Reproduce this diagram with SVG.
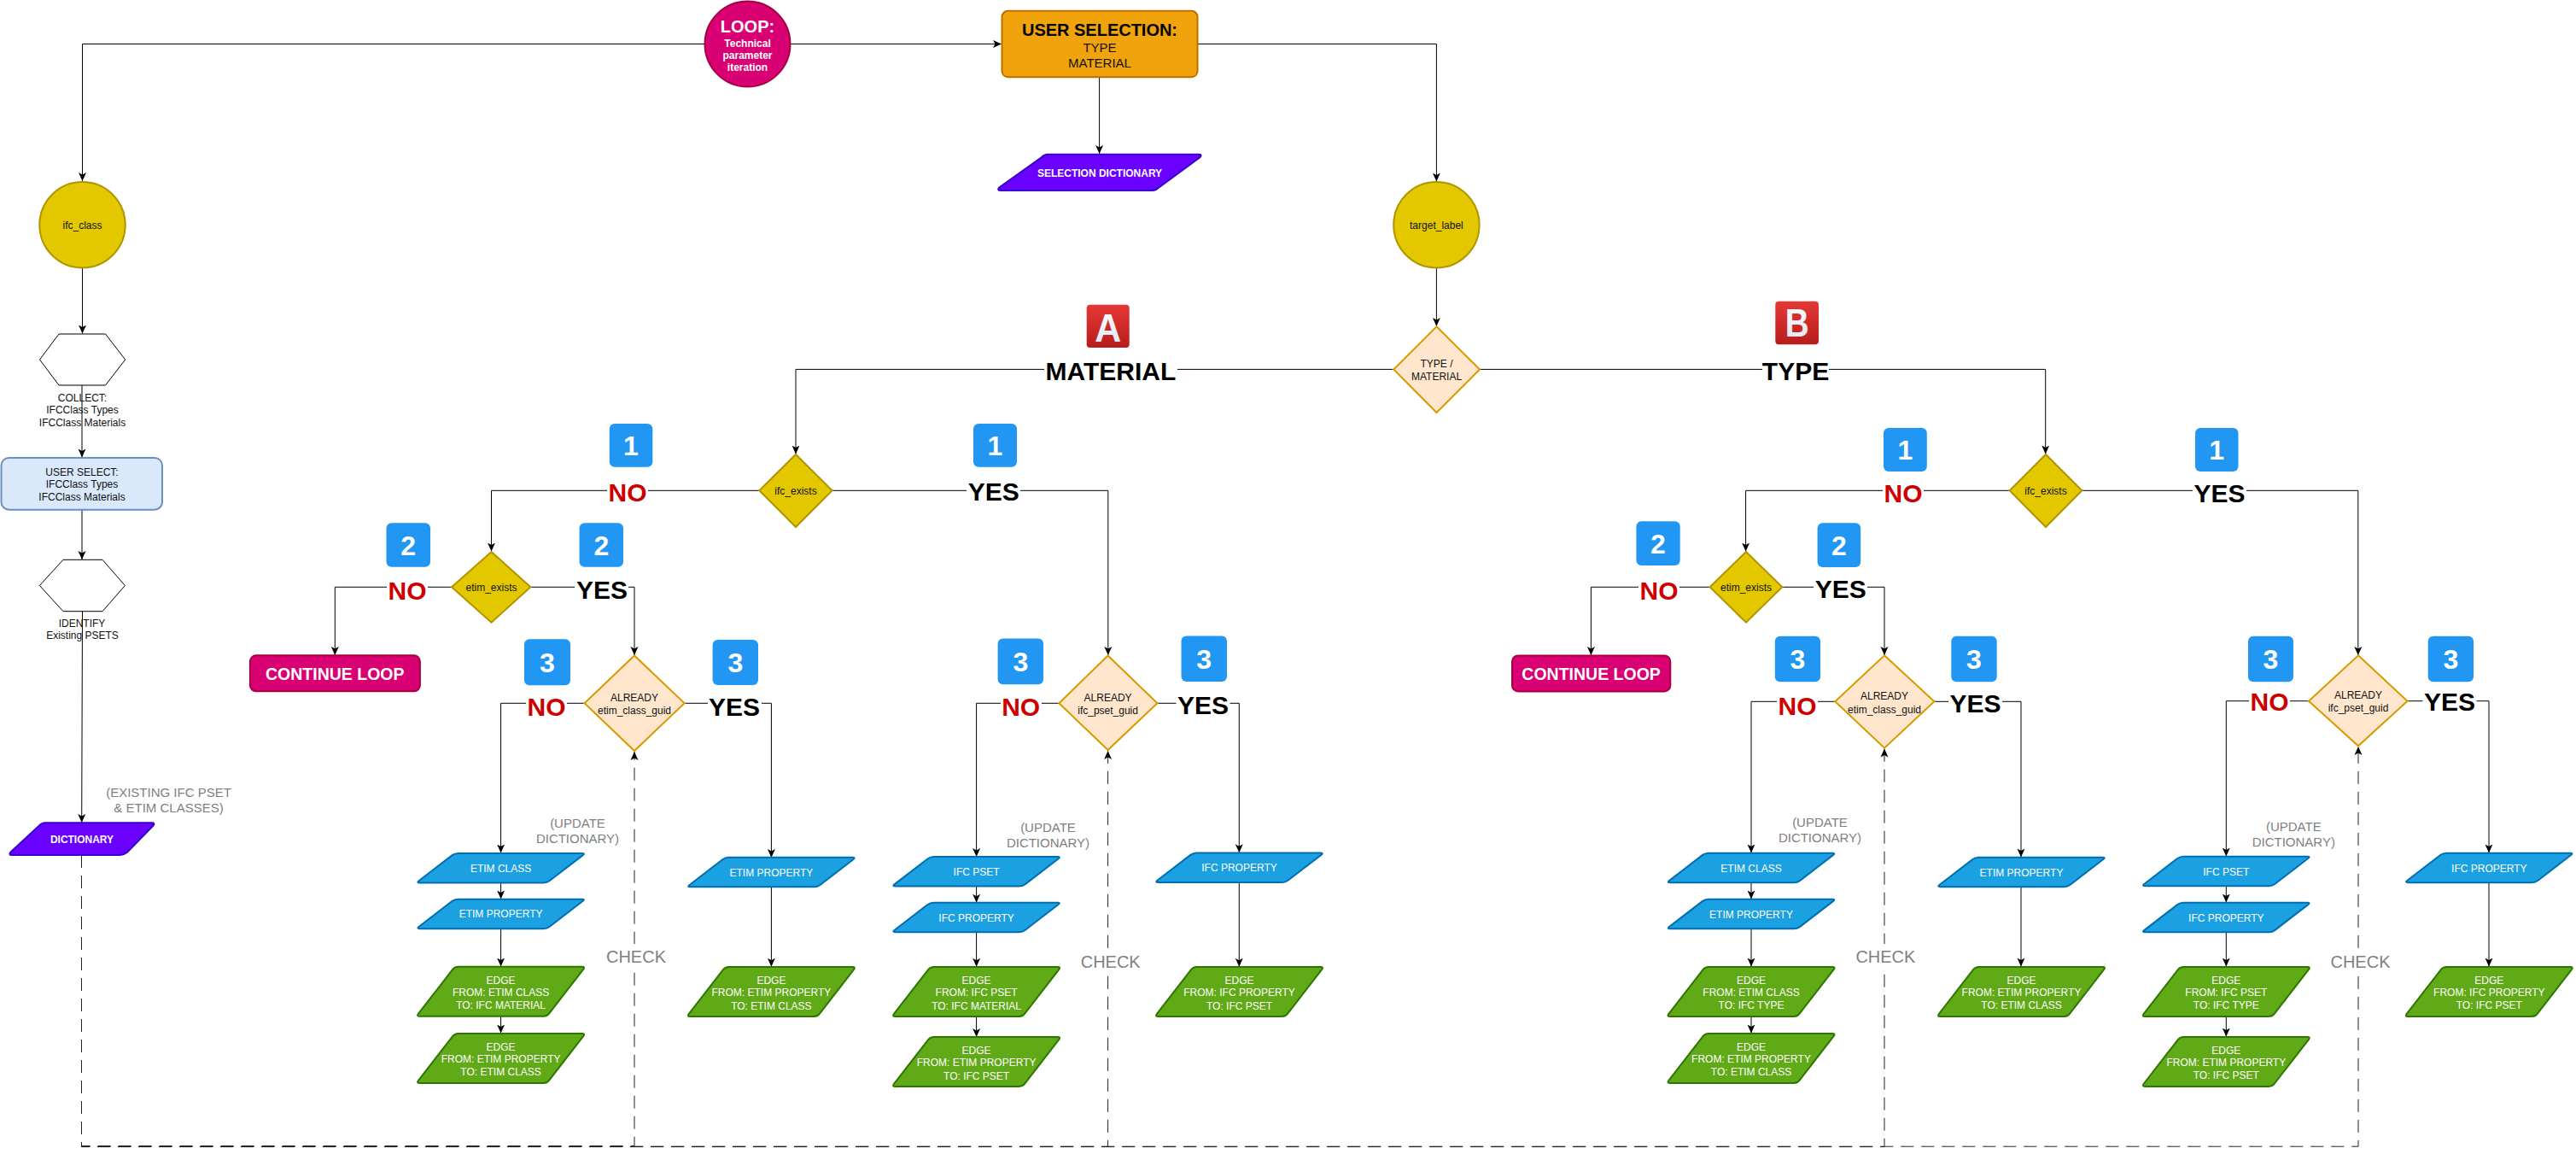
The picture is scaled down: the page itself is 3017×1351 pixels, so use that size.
<svg xmlns="http://www.w3.org/2000/svg" width="3017" height="1351" viewBox="0 0 3017 1351">
<style>
text{font-family:"Liberation Sans",Arial,sans-serif;text-anchor:middle}
.c{fill:none;stroke:#000;stroke-width:1}
.a{marker-end:url(#arr)}
.d{stroke-dasharray:15 9;stroke-width:1;fill:none;stroke:#222;marker-end:url(#arr)}
.s12{font-size:12px;fill:#111}
.w12{font-size:12px;fill:#fff}
.wb12{font-size:12px;fill:#fff;font-weight:700}
.gray{font-size:15px;fill:#808080}
.check{font-size:20px;fill:#808080}
.no{font-size:30px;font-weight:700;fill:#c00}
.yes{font-size:30px;font-weight:700;fill:#000}
.bg{fill:#fff}
.badge{fill:#2196f3}
.num{font-size:32px;font-weight:700;fill:#fff}
.yel{fill:#e3c800;stroke:#b09500;stroke-width:2}
.pea{fill:#ffe6cc;stroke:#d79b00;stroke-width:2}
.hex{fill:#fff;stroke:#000;stroke-width:1}
.pnk{fill:#d80073;stroke:#a50040;stroke-width:2}
.pur{fill:#6a00ff;stroke:#3700cc;stroke-width:2}
.blu{fill:#1ba1e2;stroke:#006eaf;stroke-width:2}
.grn{fill:#60a917;stroke:#2d7600;stroke-width:2}
.cl{font-size:19.5px;font-weight:700;fill:#fff}
</style>
<defs>
<marker id="arr" markerUnits="userSpaceOnUse" markerWidth="12" markerHeight="12" refX="10" refY="6" orient="auto"><path d="M10,6 L0,1.5 L2.5,6 L0,10.5Z" fill="#000"/></marker>
<path id="pb" d="M-50,-17.25H95Q99,-17.25 95.8,-14.85L57.2,14.85Q54,17.25 50,17.25H-95Q-99,17.25 -95.8,14.85L-57.2,-14.85Q-54,-17.25 -50,-17.25Z"/>
<path id="pg" d="M-50,-29H95Q99,-29 96.55,-25.84L56.45,25.84Q54,29 50,29H-95Q-99,29 -96.55,25.84L-56.45,-25.84Q-54,-29 -50,-29Z"/>
<linearGradient id="rd" x1="0" y1="0" x2="0" y2="1"><stop offset="0" stop-color="#e53935"/><stop offset="1" stop-color="#b71c1c"/></linearGradient>
<linearGradient id="lt" x1="0" y1="0" x2="0" y2="1"><stop offset="0" stop-color="#ffffff"/><stop offset="1" stop-color="#dfe3ee"/></linearGradient>
</defs>
<rect width="3017" height="1351" fill="#fff"/>

<g id="connectors">
<path class="c a" d="M825,51.5H96.5V212"/>
<path class="c a" d="M926,51.5H1173"/>
<path class="c a" d="M1402.4,51.5H1682.4V212.5"/>
<path class="c a" d="M1287.6,90V180"/>
<path class="c a" d="M1682.4,314V382"/>
<path class="c a" d="M96.5,314V390.5"/>
<path class="c a" d="M96,451V535.5"/>
<path class="c a" d="M96,596.7V655"/>
<path class="c a" d="M96.5,715.7L95.7,963"/>
<path class="c a" d="M1632.3,432.4H932V531.5"/>
<path class="c a" d="M1733,432.4H2395.7V531.5"/>
<path class="c a" d="M889.3,574.3H575.5V645.5"/>
<path class="c a" d="M974.6,574.3H1297.8V767"/>
<path class="c a" d="M529,687.3H392.3V767"/>
<path class="c a" d="M621.4,687.3H743V767"/>
<path class="c a" d="M684.6,823.3H586.6V998.5"/>
<path class="c a" d="M801.6,823.3H903.4V1004"/>
<path class="c a" d="M586.6,1033.3V1052.5"/>
<path class="c a" d="M586.6,1087V1131.5"/>
<path class="c a" d="M586.6,1189.7V1209.5"/>
<path class="c a" d="M903.4,1038V1131.7"/>
<path class="c a" d="M1240.4,823.3H1143.6V1003"/>
<path class="c a" d="M1355.4,823.3H1451.3V998.3"/>
<path class="c a" d="M1143.6,1037.2V1056.7"/>
<path class="c a" d="M1143.6,1090.8V1131.7"/>
<path class="c a" d="M1143.6,1189.8V1214"/>
<path class="c a" d="M1451.3,1032.8V1131.7"/>
<path class="c a" d="M2353.7,574.3H2044.6V645.5"/>
<path class="c a" d="M2438.4,574.3H2761.8V767"/>
<path class="c a" d="M2002.6,687.3H1863.4V767"/>
<path class="c a" d="M2087.3,687.3H2207V767"/>
<path class="c a" d="M2149.3,821.3H2051V998.5"/>
<path class="c a" d="M2265.4,821.3H2367V1003.5"/>
<path class="c a" d="M2051,1033.3V1052.5"/>
<path class="c a" d="M2051,1087.3V1131.5"/>
<path class="c a" d="M2051,1190V1209.5"/>
<path class="c a" d="M2367,1038V1131.5"/>
<path class="c a" d="M2704,820.7H2607.3V1002.5"/>
<path class="c a" d="M2819.5,820.7H2915V998.5"/>
<path class="c a" d="M2607.3,1037V1056.5"/>
<path class="c a" d="M2607.3,1091.3V1131.5"/>
<path class="c a" d="M2607.3,1190V1213.5"/>
<path class="c a" d="M2915,1033V1131.5"/>
<path class="d" d="M95.5,1001V1341.6H743V880"/>
<path class="d" d="M95.5,1001V1342.4H1297.6V879"/>
<path class="d" d="M95.5,1001V1342.6H2207V876.5"/>
<path class="d" d="M95.5,1001V1342.2H2762V874"/>
</g>

<g id="node-loop"><circle cx="875.5" cy="51.5" r="50" class="pnk"/><text x="875.5" y="37.5" font-size="20" font-weight="700" fill="#fff">LOOP:</text><text x="875.5" y="54.5" class="wb12">Technical</text><text x="875.5" y="68.5" class="wb12">parameter</text><text x="875.5" y="83" class="wb12">iteration</text></g>
<g id="node-user-selection"><rect x="1173.5" y="12.7" width="229" height="77.5" rx="7" fill="#f0a30a" stroke="#bd7000" stroke-width="2"/><text x="1288" y="41.7" font-size="20" font-weight="700" fill="#000" textLength="182" lengthAdjust="spacingAndGlyphs">USER SELECTION:</text><text x="1288" y="61" font-size="15" fill="#111">TYPE</text><text x="1288" y="79" font-size="15" fill="#111">MATERIAL</text></g>
<g id="node-selection-dictionary"><path class="pur" d="M1227,180.7H1404Q1408,180.7 1405.6,184L1357,219.7Q1354,223 1350,223H1172Q1167.7,223 1170,219.7L1220,184Q1223,180.7 1227,180.7Z"/><text x="1288" y="207" class="wb12">SELECTION DICTIONARY</text></g>
<g id="node-ifc-class"><circle cx="96.5" cy="263.3" r="50.2" class="yel"/><text x="96.5" y="268" class="s12">ifc_class</text></g>
<g id="node-target-label"><circle cx="1682.4" cy="263.3" r="50.2" class="yel"/><text x="1682.4" y="268" class="s12">target_label</text></g>
<g id="node-collect"><polygon class="hex" points="69,391 123.5,391 146.7,421 123.5,451 69,451 46.5,421"/><text x="96.5" y="470" class="s12">COLLECT:</text><text x="96.5" y="484" class="s12">IFCClass Types</text><text x="96.5" y="499" class="s12">IFCClass Materials</text></g>
<g id="node-user-select"><rect x="1.5" y="536" width="188.5" height="60.7" rx="9" fill="#dae8fc" stroke="#6c8ebf" stroke-width="2"/><text x="96" y="556.5" class="s12">USER SELECT:</text><text x="96" y="571" class="s12">IFCClass Types</text><text x="96" y="586" class="s12">IFCClass Materials</text></g>
<g id="node-identify"><polygon class="hex" points="74,655.3 120,655.3 146.4,685.5 120,715.7 74,715.7 46.4,685.5"/><text x="96" y="733.5" class="s12">IDENTIFY</text><text x="96.5" y="748" class="s12">Existing PSETS</text></g>
<g id="node-dictionary"><path class="pur" d="M53,963.3H178Q182,963.3 179.5,966.5L149,997.8Q145,1001 141,1001H14Q9.8,1001 12.3,997.8L46,966.5Q49,963.3 53,963.3Z"/><text x="96" y="986.5" class="wb12">DICTIONARY</text></g>
<g id="note-existing"><text x="197.5" y="932.5" class="gray">(EXISTING IFC PSET</text><text x="197.5" y="951" class="gray">&amp; ETIM CLASSES)</text></g>
<g id="node-type-material"><polygon class="pea" points="1682.5,382.3 1733,432.5 1682.5,483 1632.3,432.5"/><text x="1682.5" y="430" class="s12">TYPE /</text><text x="1682.5" y="445" class="s12">MATERIAL</text></g>

<g id="badge-a"><rect x="1272.7" y="356.7" width="50" height="50.3" rx="4" fill="url(#rd)"/><text x="1297.7" y="400" font-size="46" font-weight="700" fill="url(#lt)" textLength="31" lengthAdjust="spacingAndGlyphs">A</text></g>
<g id="badge-b"><rect x="2079.3" y="352.7" width="50.7" height="50.6" rx="4" fill="url(#rd)"/><text x="2104.7" y="394.3" font-size="46" font-weight="700" fill="url(#lt)" textLength="28" lengthAdjust="spacingAndGlyphs">B</text></g>

<g id="label-material"><rect class="bg" x="1223" y="426" width="156" height="12"/><text x="1301" y="445" class="yes">MATERIAL</text></g>
<g id="label-type"><rect class="bg" x="2064" y="426" width="78" height="12"/><text x="2103" y="445" class="yes">TYPE</text></g>

<g id="node-ifc-exists-a"><polygon class="yel" points="932,532 974.6,574.3 932,617 889.3,574.3"/><text x="932" y="579" class="s12">ifc_exists</text></g>
<g id="node-etim-exists-a"><polygon class="yel" points="575.5,646 621.4,687.3 575.5,728.7 529,687.3"/><text x="575.5" y="692" class="s12">etim_exists</text></g>
<g id="node-continue-a"><rect x="292.9" y="767.3" width="199" height="42" rx="7" class="pnk"/><text x="392.3" y="795.5" class="cl">CONTINUE LOOP</text></g>
<g id="node-already-class-a"><polygon class="pea" points="743,767.5 801.6,823.3 743,879 684.6,823.3"/><text x="743" y="821" class="s12">ALREADY</text><text x="743" y="836" class="s12">etim_class_guid</text></g>
<g id="node-already-pset-a"><polygon class="pea" points="1297.6,767.5 1355.4,823.3 1297.6,878 1240.4,823.3"/><text x="1297.6" y="821" class="s12">ALREADY</text><text x="1297.6" y="836" class="s12">ifc_pset_guid</text></g>

<g id="labels-a">
<rect class="bg" x="711" y="568" width="48" height="12"/><text x="735" y="586.7" class="no">NO</text>
<rect class="bg" x="1132" y="568" width="63" height="12"/><text x="1163.7" y="585.7" class="yes">YES</text>
<rect class="bg" x="453" y="681" width="48" height="12"/><text x="477" y="701.7" class="no">NO</text>
<rect class="bg" x="673" y="681" width="63" height="12"/><text x="705" y="700.7" class="yes">YES</text>
<rect class="bg" x="616" y="817" width="48" height="12"/><text x="640" y="837.7" class="no">NO</text>
<rect class="bg" x="829" y="817" width="63" height="12"/><text x="860" y="838" class="yes">YES</text>
<rect class="bg" x="1172" y="817" width="48" height="12"/><text x="1195.7" y="837.6" class="no">NO</text>
<rect class="bg" x="1377.5" y="817" width="63" height="12"/><text x="1409" y="835.5" class="yes">YES</text>
</g>
<g id="badges-a">
<rect class="badge" x="713.8" y="496" width="50.5" height="50.7" rx="6"/><text x="739" y="533" class="num">1</text>
<rect class="badge" x="1140" y="496" width="51" height="50.7" rx="6"/><text x="1165.5" y="533" class="num">1</text>
<rect class="badge" x="452.5" y="612.3" width="51.5" height="51.4" rx="6"/><text x="478.2" y="649.5" class="num">2</text>
<rect class="badge" x="678.6" y="612.3" width="51.4" height="51.4" rx="6"/><text x="704.3" y="649.5" class="num">2</text>
<rect class="badge" x="614" y="748.3" width="54" height="54" rx="6"/><text x="641" y="786.7" class="num">3</text>
<rect class="badge" x="834.6" y="749" width="53.4" height="53" rx="6"/><text x="861.3" y="787" class="num">3</text>
<rect class="badge" x="1168.6" y="747.4" width="53.4" height="53.9" rx="6"/><text x="1195.3" y="786" class="num">3</text>
<rect class="badge" x="1383.5" y="744.6" width="53.5" height="53.4" rx="6"/><text x="1410.2" y="783" class="num">3</text>
</g>

<g id="node-etim-class-a"><use href="#pb" x="586.6" y="1016.2" class="blu"/><text x="586.6" y="1020.5" class="w12">ETIM CLASS</text></g>
<g id="node-etim-prop-a"><use href="#pb" x="586.6" y="1069.9" class="blu"/><text x="586.6" y="1074" class="w12">ETIM PROPERTY</text></g>
<g id="node-edge1-a"><use href="#pg" x="586.6" y="1160.8" class="grn"/><text x="586.6" y="1152" class="w12">EDGE</text><text x="586.6" y="1166" class="w12">FROM: ETIM CLASS</text><text x="586.6" y="1181" class="w12">TO: IFC MATERIAL</text></g>
<g id="node-edge2-a"><use href="#pg" x="586.6" y="1239" class="grn"/><text x="586.6" y="1230" class="w12">EDGE</text><text x="586.6" y="1244" class="w12">FROM: ETIM PROPERTY</text><text x="586.6" y="1259" class="w12">TO: ETIM CLASS</text></g>
<g id="node-etim-prop2-a"><use href="#pb" x="903.4" y="1021.1" class="blu"/><text x="903.4" y="1025.5" class="w12">ETIM PROPERTY</text></g>
<g id="node-edge3-a"><use href="#pg" x="903.4" y="1161" class="grn"/><text x="903.4" y="1152" class="w12">EDGE</text><text x="903.4" y="1166" class="w12">FROM: ETIM PROPERTY</text><text x="903.4" y="1181.5" class="w12">TO: ETIM CLASS</text></g>
<g id="node-ifc-pset-a"><use href="#pb" x="1143.6" y="1020.3" class="blu"/><text x="1143.6" y="1024.5" class="w12">IFC PSET</text></g>
<g id="node-ifc-prop-a"><use href="#pb" x="1143.6" y="1073.9" class="blu"/><text x="1143.6" y="1078.5" class="w12">IFC PROPERTY</text></g>
<g id="node-edge4-a"><use href="#pg" x="1143.6" y="1161" class="grn"/><text x="1143.6" y="1152" class="w12">EDGE</text><text x="1143.6" y="1166" class="w12">FROM: IFC PSET</text><text x="1143.6" y="1181.5" class="w12">TO: IFC MATERIAL</text></g>
<g id="node-edge5-a"><use href="#pg" x="1143.6" y="1243" class="grn"/><text x="1143.6" y="1234" class="w12">EDGE</text><text x="1143.6" y="1248" class="w12">FROM: ETIM PROPERTY</text><text x="1143.6" y="1263.5" class="w12">TO: IFC PSET</text></g>
<g id="node-ifc-prop2-a"><use href="#pb" x="1451.5" y="1015.7" class="blu"/><text x="1451.5" y="1020" class="w12">IFC PROPERTY</text></g>
<g id="node-edge6-a"><use href="#pg" x="1451.5" y="1161" class="grn"/><text x="1451.5" y="1152" class="w12">EDGE</text><text x="1451.5" y="1166" class="w12">FROM: IFC PROPERTY</text><text x="1451.5" y="1181.5" class="w12">TO: IFC PSET</text></g>

<g id="notes-a">
<text x="676.5" y="969" class="gray">(UPDATE</text><text x="676.5" y="987" class="gray">DICTIONARY)</text>
<text x="1227.5" y="974" class="gray">(UPDATE</text><text x="1227.5" y="992" class="gray">DICTIONARY)</text>
<rect class="bg" x="710" y="1105" width="70" height="31"/><text x="745" y="1127" class="check">CHECK</text>
<rect class="bg" x="1266" y="1111" width="70" height="31"/><text x="1300.7" y="1133" class="check">CHECK</text>
</g>

<g id="node-ifc-exists-b"><polygon class="yel" points="2396,532 2438.4,574.3 2396,617 2353.7,574.3"/><text x="2396" y="579" class="s12">ifc_exists</text></g>
<g id="node-etim-exists-b"><polygon class="yel" points="2045,646 2087.3,687.3 2045,728.7 2002.6,687.3"/><text x="2045" y="692" class="s12">etim_exists</text></g>
<g id="node-continue-b"><rect x="1771" y="767.5" width="185.3" height="41.9" rx="7" class="pnk"/><text x="1863.6" y="795.5" class="cl">CONTINUE LOOP</text></g>
<g id="node-already-class-b"><polygon class="pea" points="2207,767.3 2265.4,821.3 2207,875.7 2149.3,821.3"/><text x="2207" y="819" class="s12">ALREADY</text><text x="2207" y="834.5" class="s12">etim_class_guid</text></g>
<g id="node-already-pset-b"><polygon class="pea" points="2762,767.3 2819.5,820.7 2762,873.3 2704,820.7"/><text x="2762" y="818" class="s12">ALREADY</text><text x="2762" y="833" class="s12">ifc_pset_guid</text></g>

<g id="labels-b">
<rect class="bg" x="2205" y="568" width="48" height="12"/><text x="2229" y="587.7" class="no">NO</text>
<rect class="bg" x="2568" y="568" width="63" height="12"/><text x="2599.5" y="587.7" class="yes">YES</text>
<rect class="bg" x="1919" y="681" width="48" height="12"/><text x="1943" y="701.7" class="no">NO</text>
<rect class="bg" x="2124" y="681" width="63" height="12"/><text x="2155.7" y="700" class="yes">YES</text>
<rect class="bg" x="2081" y="815" width="48" height="12"/><text x="2105" y="836.7" class="no">NO</text>
<rect class="bg" x="2282" y="815" width="63" height="12"/><text x="2313.5" y="834" class="yes">YES</text>
<rect class="bg" x="2634" y="815" width="48" height="12"/><text x="2658" y="831.7" class="no">NO</text>
<rect class="bg" x="2837.5" y="815" width="63" height="12"/><text x="2869" y="831.7" class="yes">YES</text>
</g>
<g id="badges-b">
<rect class="badge" x="2206" y="501" width="50.8" height="51" rx="6"/><text x="2231.4" y="538" class="num">1</text>
<rect class="badge" x="2571" y="501" width="50.5" height="51" rx="6"/><text x="2596.2" y="538" class="num">1</text>
<rect class="badge" x="1916.4" y="610.3" width="51.3" height="51.7" rx="6"/><text x="1942" y="647.5" class="num">2</text>
<rect class="badge" x="2128.6" y="612.3" width="50.6" height="51.7" rx="6"/><text x="2153.9" y="649.5" class="num">2</text>
<rect class="badge" x="2078.8" y="744.7" width="53.2" height="53.6" rx="6"/><text x="2105.4" y="783" class="num">3</text>
<rect class="badge" x="2285.3" y="744.7" width="53.4" height="53.6" rx="6"/><text x="2312" y="783" class="num">3</text>
<rect class="badge" x="2633" y="744.7" width="53" height="53.6" rx="6"/><text x="2659.5" y="783" class="num">3</text>
<rect class="badge" x="2843.7" y="744.7" width="53.3" height="53.6" rx="6"/><text x="2870.3" y="783" class="num">3</text>
</g>

<g id="node-etim-class-b"><use href="#pb" x="2051" y="1016" class="blu"/><text x="2051" y="1020.5" class="w12">ETIM CLASS</text></g>
<g id="node-etim-prop-b"><use href="#pb" x="2051" y="1070" class="blu"/><text x="2051" y="1074.5" class="w12">ETIM PROPERTY</text></g>
<g id="node-edge1-b"><use href="#pg" x="2051" y="1161" class="grn"/><text x="2051" y="1152" class="w12">EDGE</text><text x="2051" y="1166" class="w12">FROM: ETIM CLASS</text><text x="2051" y="1181" class="w12">TO: IFC TYPE</text></g>
<g id="node-edge2-b"><use href="#pg" x="2051" y="1239" class="grn"/><text x="2051" y="1230" class="w12">EDGE</text><text x="2051" y="1244" class="w12">FROM: ETIM PROPERTY</text><text x="2051" y="1259" class="w12">TO: ETIM CLASS</text></g>
<g id="node-etim-prop2-b"><use href="#pb" x="2367.5" y="1020.9" class="blu"/><text x="2367.5" y="1026" class="w12">ETIM PROPERTY</text></g>
<g id="node-edge3-b"><use href="#pg" x="2367.5" y="1161" class="grn"/><text x="2367.5" y="1152" class="w12">EDGE</text><text x="2367.5" y="1166" class="w12">FROM: ETIM PROPERTY</text><text x="2367.5" y="1181" class="w12">TO: ETIM CLASS</text></g>
<g id="node-ifc-pset-b"><use href="#pb" x="2607.3" y="1019.9" class="blu"/><text x="2607.3" y="1024.5" class="w12">IFC PSET</text></g>
<g id="node-ifc-prop-b"><use href="#pb" x="2607.3" y="1074" class="blu"/><text x="2607.3" y="1079" class="w12">IFC PROPERTY</text></g>
<g id="node-edge4-b"><use href="#pg" x="2607.3" y="1161" class="grn"/><text x="2607.3" y="1152" class="w12">EDGE</text><text x="2607.3" y="1166" class="w12">FROM: IFC PSET</text><text x="2607.3" y="1181" class="w12">TO: IFC TYPE</text></g>
<g id="node-edge5-b"><use href="#pg" x="2607.3" y="1242.9" class="grn"/><text x="2607.3" y="1234" class="w12">EDGE</text><text x="2607.3" y="1248" class="w12">FROM: ETIM PROPERTY</text><text x="2607.3" y="1263" class="w12">TO: IFC PSET</text></g>
<g id="node-ifc-prop2-b"><use href="#pb" x="2915.3" y="1015.9" class="blu"/><text x="2915.3" y="1020.5" class="w12">IFC PROPERTY</text></g>
<g id="node-edge6-b"><use href="#pg" x="2915.3" y="1161" class="grn"/><text x="2915.3" y="1152" class="w12">EDGE</text><text x="2915.3" y="1166" class="w12">FROM: IFC PROPERTY</text><text x="2915.3" y="1181" class="w12">TO: IFC PSET</text></g>

<g id="notes-b">
<text x="2131.5" y="967.5" class="gray">(UPDATE</text><text x="2131.5" y="986" class="gray">DICTIONARY)</text>
<text x="2686.3" y="972.5" class="gray">(UPDATE</text><text x="2686.3" y="991" class="gray">DICTIONARY)</text>
<rect class="bg" x="2173" y="1105" width="70" height="30"/><text x="2208.4" y="1126.5" class="check">CHECK</text>
<rect class="bg" x="2729" y="1111" width="71" height="30"/><text x="2764.5" y="1133" class="check">CHECK</text>
</g>
</svg>
